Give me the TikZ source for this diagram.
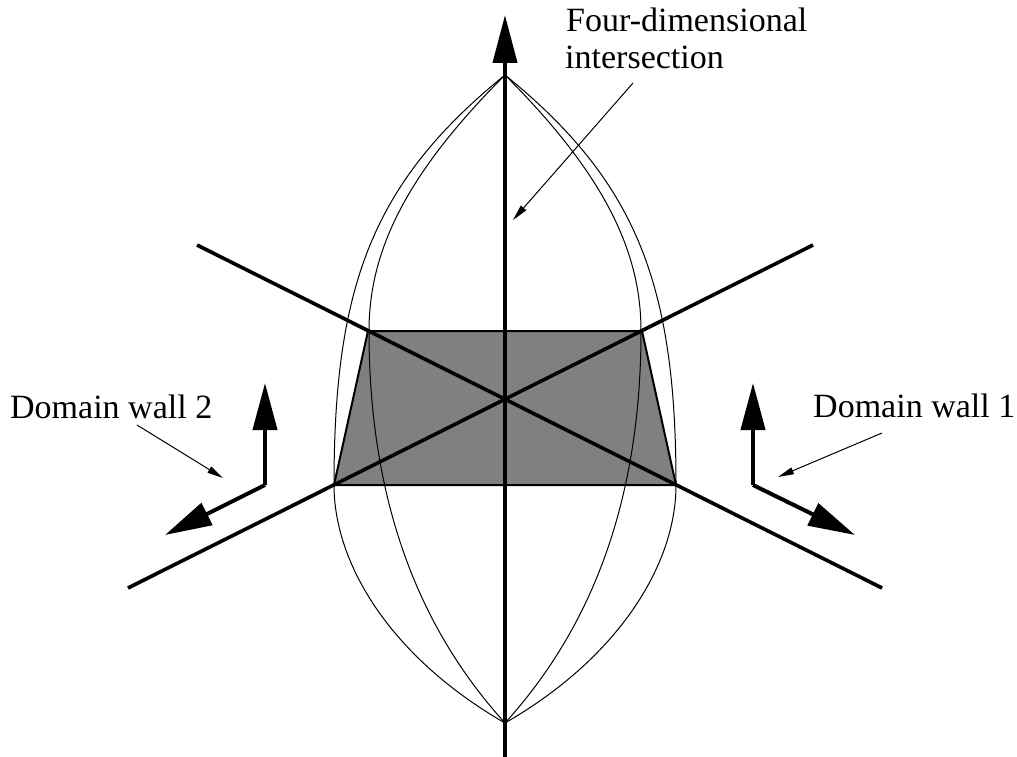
\documentclass[tikz,border=0pt]{standalone}
\usepackage{fontspec}
\setmainfont{Liberation Serif}
\usetikzlibrary{arrows.meta}
\definecolor{trapgray}{RGB}{128,128,128}
\begin{document}
\begin{tikzpicture}[x=1pt,y=-1pt,
  wall/.style={line width=3.6pt},
  axisline/.style={line width=4pt, -{Triangle[length=48pt,width=24pt]}},
  bigarrow/.style={line width=4pt, -{Triangle[length=47pt,width=24pt]}},
  leader/.style={line width=1pt, -{Triangle[length=16pt,width=7pt]}},
  lens/.style={line width=1pt},
  trap/.style={fill=trapgray, draw=black, line width=2pt, line join=miter},
  lbl/.style={font=\fontsize{34}{36.7}\selectfont, inner sep=0pt, anchor=base west}]
\useasboundingbox (0,0) rectangle (1017,757);
% key points
\coordinate (C) at (505,399.5);
\coordinate (TL) at (368,331);
\coordinate (TR) at (642,331);
\coordinate (BL) at (334,485);
\coordinate (BR) at (676,485);
\coordinate (W1a) at (197,245);
\coordinate (W1b) at (882,588);
\coordinate (W2a) at (128,588);
\coordinate (W2b) at (813,245);
\coordinate (Atop) at (505,15);
\coordinate (Abot) at (505,757);
\coordinate (Ltop) at (505,75);
\coordinate (Lbot) at (505,723);
% shaded trapezoid
\draw[trap] (TL) -- (TR) -- (BR) -- (BL) -- cycle;
% lens curves (left, then mirrored right)
\foreach \s/\sh in {1/0,-1/1010}{
\begin{scope}[xshift=\sh pt, xscale=\s]
\draw[lens] (Ltop) .. controls (373,182) and (334,285) .. (334,485)
                   .. controls (334,565) and (392,658) .. (Lbot);
\draw[lens] (Ltop) .. controls (406,174) and (369,251) .. (369,331)
                   .. controls (369,531) and (438,649) .. (Lbot);
\end{scope}
}
% domain walls
\draw[wall] (W1a) -- (W1b);
\draw[wall] (W2a) -- (W2b);
% vertical axis
\draw[axisline] (Abot) -- (Atop);
% orientation arrows of domain wall 2
\coordinate (D2c) at (265,485);
\coordinate (D2u) at (265,383);
\coordinate (D2d) at (165,535);
\draw[bigarrow] (D2c) -- (D2u);
\draw[bigarrow] (D2c) -- (D2d);
% orientation arrows of domain wall 1
\coordinate (D1c) at (753,485);
\coordinate (D1u) at (753,383);
\coordinate (D1d) at (855,535);
\draw[bigarrow] (D1c) -- (D1u);
\draw[bigarrow] (D1c) -- (D1d);
% labels
\node[lbl] (L2) at (10,418) {Domain wall 2};
\node[lbl] (L1) at (813,417) {Domain wall 1};
\node[lbl] (L4a) at (566,31.7) {Four-dimensional};
\node[lbl] (L4b) at (565,68.3) {intersection};
% leaders
\coordinate (P2s) at (137,425);
\coordinate (P2e) at (223,478);
\coordinate (P1s) at (882,433);
\coordinate (P1e) at (778,477);
\coordinate (P4s) at (633,83);
\coordinate (P4e) at (513,220);
\draw[leader] (P2s) -- (P2e);
\draw[leader] (P1s) -- (P1e);
\draw[leader] (P4s) -- (P4e);
\end{tikzpicture}
\end{document}
